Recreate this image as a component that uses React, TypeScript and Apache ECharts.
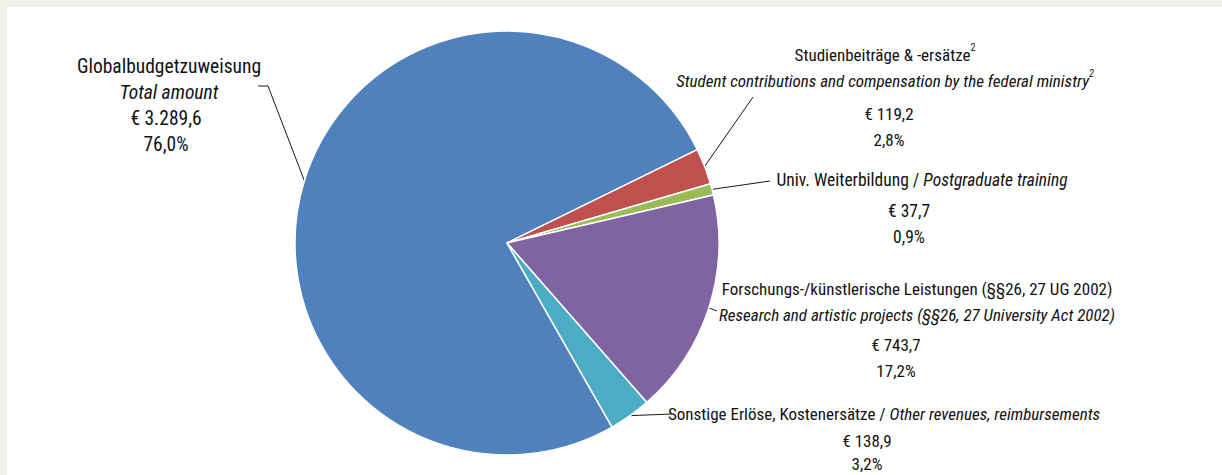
import React, { useEffect, useRef } from 'react';
import * as echarts from 'echarts';

// ---- data ----
const categories = [
  'Globalbudgetzuweisung',
  'Studienbeiträge & -ersätze',
  'Univ. Weiterbildung',
  'Forschungs-/künstlerische Leistungen (§§26, 27 UG 2002)',
  'Sonstige Erlöse, Kostenersätze',
];
const categoriesEn = [
  'Total amount',
  'Student contributions and compensation by the federal ministry',
  'Postgraduate training',
  'Research and artistic projects (§§26, 27 University Act 2002)',
  'Other revenues, reimbursements',
];
const values = [3289.6, 119.2, 37.7, 743.7, 138.9];
const footnoteMarks = ['', '2', '', '', ''];
const sliceColors = ['#4f81bd', '#c0504d', '#9bbb59', '#8064a2', '#4bacc6'];

// ---- layout (chart pixel coordinates, not data) ----
const FONT = "'Roboto Condensed', 'Liberation Sans Narrow', 'DejaVu Sans Condensed', sans-serif";
const LH = 26;
const labelLayouts = [
  { x: 162, y: 46, fs: 19.5, inline: false, valueShift: -3, gap: 0, vLH: 26, pLH: 26, line: [[261, 79], [251, 79]] },
  { x: 878, y: 35, fs: 17, inline: false, valueShift: 4, gap: 7, vLH: 26, pLH: 26, line: [[746, 90]] },
  { x: 915, y: 160, fs: 17.5, inline: true, valueShift: -13, gap: 5, vLH: 26, pLH: 26, line: [[763, 174]] },
  { x: 910, y: 269, fs: 17, inline: false, valueShift: -21, gap: 4, vLH: 26, pLH: 26, line: [[710, 304]] },
  { x: 877, y: 394, fs: 17, inline: true, valueShift: -17, gap: 0, vLH: 28, pLH: 18, line: [[665, 407]] },
];

const total = values.reduce((a, b) => a + b, 0);

function fmtEuro(v: number): string {
  const [i, d] = v.toFixed(1).split('.');
  return '€ ' + i.replace(/\B(?=(\d{3})+(?!\d))/g, '.') + ',' + d;
}
function fmtPct(v: number): string {
  return ((v / total) * 100).toFixed(1).replace('.', ',') + '%';
}

function richFor(i: number) {
  const L = labelLayouts[i];
  const base = { fontFamily: FONT, fontSize: L.fs, color: '#111', lineHeight: LH };
  const s = L.valueShift;
  const pad = s < 0 ? [0, -2 * s, 0, 0] : [0, 0, 0, 2 * s];
  return {
    de: { ...base },
    en: { ...base, fontStyle: 'italic' },
    sup: { ...base, fontSize: 10, verticalAlign: 'top', lineHeight: LH },
    supi: { ...base, fontSize: 10, fontStyle: 'italic', verticalAlign: 'top', lineHeight: LH },
    v: { ...base, padding: pad, lineHeight: L.vLH },
    p: { ...base, padding: pad, lineHeight: L.pLH },
    gap: { ...base, fontSize: 3, lineHeight: Math.max(1, L.gap) },
  };
}

function labelText(i: number): string {
  const L = labelLayouts[i];
  const mark = footnoteMarks[i];
  const lines: string[] = [];
  if (L.inline) {
    lines.push(`{de|${categories[i]} / }{en|${categoriesEn[i]}}`);
  } else {
    lines.push(`{de|${categories[i]}}` + (mark ? `{sup|${mark}}` : ''));
    lines.push(`{en|${categoriesEn[i]}}` + (mark ? `{supi|${mark}}` : ''));
  }
  if (L.gap > 2) lines.push('{gap| }');
  lines.push(`{v|${fmtEuro(values[i])}}`);
  lines.push(`{p|${fmtPct(values[i])}}`);
  return lines.join('\n');
}

export default function App() {
  const ref = useRef<HTMLDivElement>(null);
  useEffect(() => {
    if (!ref.current) return;
    const chart = echarts.init(ref.current, null, { renderer: 'svg' });
    const data = values.map((v, i) => ({
      value: v,
      name: categories[i],
      itemStyle: { color: sliceColors[i] },
      label: {
        show: true,
        formatter: labelText(i),
        rich: richFor(i),
      },
    }));
    chart.setOption({
      animation: false,
      backgroundColor: '#ffffff',
      series: [
        {
          type: 'pie',
          center: [500, 236],
          radius: 212,
          startAngle: 299.7,
          clockwise: true,
          avoidLabelOverlap: false,
          itemStyle: { borderColor: '#ffffff', borderWidth: 1.5 },
          label: {
            show: true,
            position: 'outside',
            fontFamily: FONT,
            fontSize: 17,
            color: '#111',
          },
          labelLine: {
            show: true,
            length: 10,
            length2: 10,
            lineStyle: { color: '#1a1a1a', width: 1 },
          },
          emphasis: { disabled: true },
          labelLayout: (params: any) => {
            const L = labelLayouts[params.dataIndex];
            const start = params.labelLinePoints ? params.labelLinePoints[0] : L.line[0];
            return {
              x: L.x,
              y: L.y,
              align: 'center',
              verticalAlign: 'top',
              labelLinePoints: [start, ...L.line],
            };
          },
          data,
        },
      ],
    });
    return () => chart.dispose();
  }, []);
  return (
    <div
      style={{
        position: 'fixed',
        left: 0,
        top: 0,
        width: 1222,
        height: 475,
        background: '#f1f0e9',
        overflow: 'hidden',
      }}
    >
      <div
        ref={ref}
        style={{ position: 'absolute', left: 7, top: 7, width: 1215, height: 468, background: '#fff' }}
      />
    </div>
  );
}
